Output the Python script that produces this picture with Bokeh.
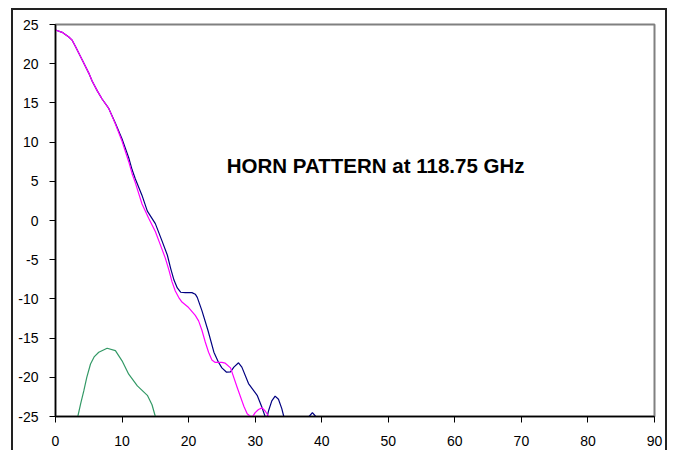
from bokeh.plotting import figure
from bokeh.models import Range1d, FixedTicker, Label
from bokeh.embed import file_html
from bokeh.resources import INLINE

# Horn pattern at 118.75 GHz: angle (deg) vs level (dB)
x_navy = [0, 1, 2, 2.5, 3, 4, 5, 5.5, 6.3, 7, 8, 9, 10, 11, 11.5, 12, 13, 13.8, 15,
          16, 16.8, 17.3, 17.8, 18.3, 18.8, 19.5, 20.5, 21, 21.3, 22, 22.9, 23.8,
          24.5, 25, 25.7, 26.3, 26.8, 27.5, 28, 29, 30.3, 31, 31.5, 31.7, 32.0,
          32.5, 33.0, 33.5, 34.0, 34.3, 35, 37.5, 38.1, 38.6, 39.1, 40]
y_navy = [24.3, 24.0, 23.4, 23.0, 22.2, 20.5, 18.8, 17.8, 16.5, 15.5, 14.3, 12.4,
          10.4, 8.0, 6.5, 5.3, 3.2, 1.2, -0.4, -2.6, -4.4, -6.1, -7.6, -8.6, -9.15,
          -9.2, -9.2, -9.4, -9.8, -11.5, -14.0, -16.8, -18.1, -18.8, -19.35, -19.3,
          -18.7, -18.15, -18.7, -20.8, -22.3, -23.8, -25.0, -25.4, -24.3, -23.0,
          -22.4, -22.8, -24.0, -25.0, -27.0, -26.0, -25.0, -24.5, -25.0, -27.0]

x_magenta = [0, 1, 2, 2.5, 3, 4, 5, 5.5, 6.3, 7, 8, 9, 10, 11, 11.5, 12, 13, 14, 15,
             15.8, 16.5, 17, 17.5, 18, 18.5, 19, 20, 21, 21.5, 22, 22.5, 23, 23.5,
             24, 25, 25.5, 26.3, 27.3, 28.3, 28.8, 29.3, 29.6, 30.0, 30.5, 31.05,
             31.5, 32.05, 33]
y_magenta = [24.3, 24.0, 23.4, 23.0, 22.2, 20.5, 18.8, 17.8, 16.5, 15.5, 14.3, 12.3,
             10.1, 7.5, 6.0, 4.8, 2.1, 0.3, -1.4, -3.2, -4.8, -6.2, -7.8, -9.0,
             -9.8, -10.4, -11.1, -12.1, -12.8, -14.0, -15.5, -16.8, -17.8, -18.1,
             -18.1, -18.2, -18.8, -21.3, -23.7, -24.65, -25.0, -25.05, -24.5, -24.1,
             -23.9, -24.3, -25.0, -27.0]

x_green = [3.35, 3.8, 4.26, 4.7, 5.26, 5.8, 6.5, 7.76, 9.0, 10.0, 11.0, 12.3, 13.8,
           14.5, 15.0]
y_green = [-25.0, -23.3, -21.7, -20.0, -18.3, -17.4, -16.8, -16.3, -16.6, -17.9,
           -19.6, -21.1, -22.3, -23.5, -25.0]

x_ticks = [0, 10, 20, 30, 40, 50, 60, 70, 80, 90]
y_ticks = [-25, -20, -15, -10, -5, 0, 5, 10, 15, 20, 25]

FONT = "Liberation Sans"

p = figure(
    frame_width=599, frame_height=392,
    min_border_left=42, min_border_right=11, min_border_top=14, min_border_bottom=34,
    x_range=Range1d(0, 90), y_range=Range1d(-25, 25),
    output_backend="svg", toolbar_location=None,
    background_fill_color="white", border_fill_color="white",
)
# chart area sits inset in the page with a dark rule around it
p.margin = (10, 10, 0, 13)
p.styles = {"box-shadow": "0 0 0 2px #222222"}

p.xgrid.visible = False
p.ygrid.visible = False
p.outline_line_color = "#808080"
p.outline_line_width = 2

for ax, ticks in ((p.xaxis[0], x_ticks), (p.yaxis[0], y_ticks)):
    ax.ticker = FixedTicker(ticks=ticks)
    ax.major_label_overrides = {t: str(t) for t in ticks}
    ax.axis_line_color = "black"
    ax.axis_line_width = 1.5
    ax.major_tick_line_color = "black"
    ax.major_tick_out = 6
    ax.major_tick_in = 0
    ax.minor_tick_line_color = None
    ax.major_label_text_font = FONT
    ax.major_label_text_font_size = "14px"
    ax.major_label_text_color = "black"

p.yaxis[0].major_label_standoff = 11
p.xaxis[0].major_label_standoff = 13

p.line(x_navy, y_navy, line_color="#000080", line_width=1.2)
p.line(x_magenta, y_magenta, line_color="#FF00FF", line_width=1.2)
p.line(x_green, y_green, line_color="#339966", line_width=1.2)

p.add_layout(Label(
    x=48.1, y=7.0, text="HORN PATTERN at 118.75 GHz",
    text_font=FONT, text_font_style="bold", text_font_size="20.5px",
    text_align="center", text_baseline="middle", text_color="black",
))

open("out.html", "w").write(file_html(p, INLINE))
